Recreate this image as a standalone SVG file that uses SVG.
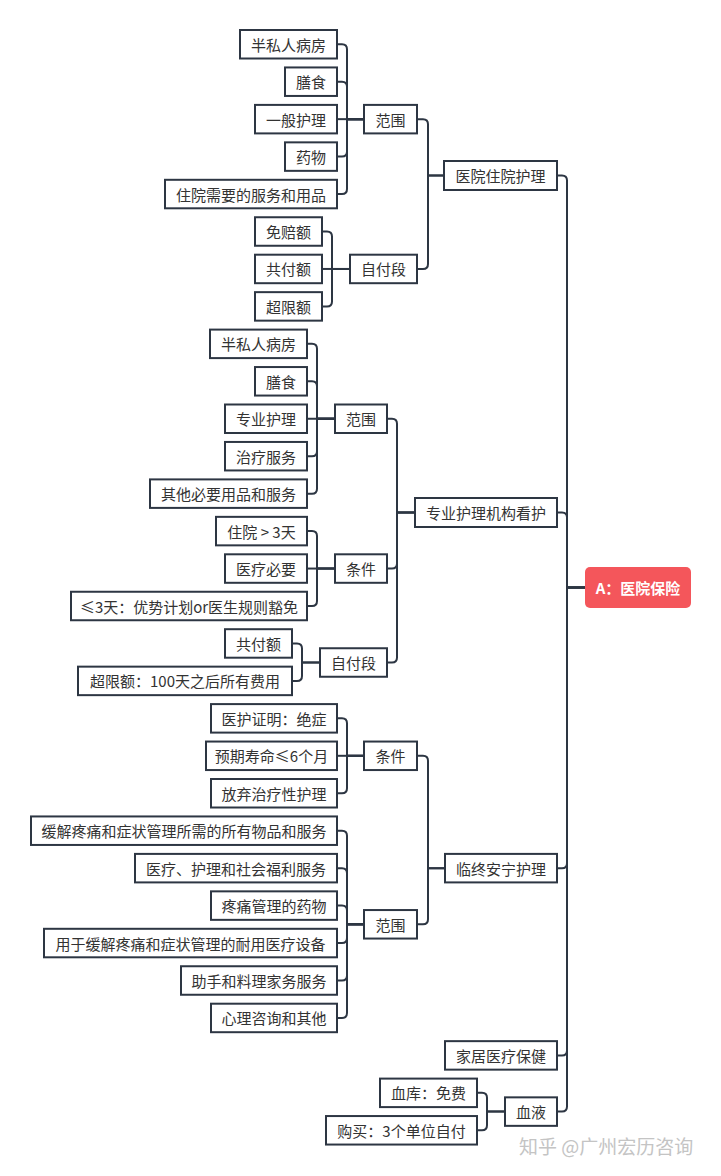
<svg xmlns="http://www.w3.org/2000/svg" width="721" height="1176" viewBox="0 0 721 1176">
<style>
.bg{fill:#ffffff}
.n rect{fill:#ffffff;stroke:#2d3643;stroke-width:2}
.n text{font-family:"Noto Sans CJK SC","Noto Sans",sans-serif;font-size:15px;fill:#333333;text-anchor:middle;dominant-baseline:central}
#root rect{fill:#F4565B;stroke:none}
#root text{fill:#ffffff;font-weight:bold}
#connectors path{fill:none;stroke:#2d3643;stroke-width:2}
.wm{font-family:"Noto Sans CJK SC",sans-serif;font-size:19px;fill:#c4c4c4;dominant-baseline:central}
</style>
<rect class="bg" x="0" y="0" width="721" height="1176"/>
<g id="connectors">
<!-- root -->
<path d="M585 587.5H567V180.5Q567 175.5 562 175.5H557"/>
<path d="M585 587.5H567V517.5Q567 512.5 562 512.5H557"/>
<path d="M585 587.5H567V863.15Q567 868.15 562 868.15H557"/>
<path d="M585 587.5H567V1050.4Q567 1055.4 562 1055.4H557"/>
<path d="M585 587.5H567V1106.6Q567 1111.6 562 1111.6H557"/>
<!-- 医院住院护理 -->
<path d="M444 175.5H428V124.15Q428 119.15 423 119.15H417"/>
<path d="M444 175.5H428V263.95Q428 268.95 423 268.95H417"/>
<!-- 范围1 -->
<path d="M364 119.15H347V49.25Q347 44.25 342 44.25H337"/>
<path d="M364 119.15H347V86.7Q347 81.7 342 81.7H337"/>
<path d="M364 119.15H337"/>
<path d="M364 119.15H347V151.6Q347 156.6 342 156.6H337"/>
<path d="M364 119.15H347V189.05Q347 194.05 342 194.05H337"/>
<!-- 自付段1 -->
<path d="M350 268.95H332V236.5Q332 231.5 327 231.5H322"/>
<path d="M350 268.95H322"/>
<path d="M350 268.95H332V301.4Q332 306.4 327 306.4H322"/>
<!-- 专业护理机构看护 -->
<path d="M415 512.5H397V423.75Q397 418.75 392 418.75H387"/>
<path d="M415 512.5H397V563.55Q397 568.55 392 568.55H387"/>
<path d="M415 512.5H397V657.5Q397 662.5 392 662.5H387"/>
<!-- 范围2 -->
<path d="M335 418.75H317V348.85Q317 343.85 312 343.85H307"/>
<path d="M335 418.75H317V386.3Q317 381.3 312 381.3H307"/>
<path d="M335 418.75H307"/>
<path d="M335 418.75H317V451.2Q317 456.2 312 456.2H307"/>
<path d="M335 418.75H317V488.65Q317 493.65 312 493.65H307"/>
<!-- 条件2 -->
<path d="M335 568.55H317V536.1Q317 531.1 312 531.1H307"/>
<path d="M335 568.55H307"/>
<path d="M335 568.55H317V601Q317 606 312 606H307"/>
<!-- 自付段2 -->
<path d="M320 662.5H302V648.45Q302 643.45 297 643.45H292"/>
<path d="M320 662.5H302V675.9Q302 680.9 297 680.9H292"/>
<!-- 临终安宁护理 -->
<path d="M445 868.15H428V760.8Q428 755.8 423 755.8H417"/>
<path d="M445 868.15H428V919.3Q428 924.3 423 924.3H417"/>
<!-- 条件3 -->
<path d="M364 755.8H347V723.35Q347 718.35 342 718.35H337"/>
<path d="M364 755.8H337"/>
<path d="M364 755.8H347V788.25Q347 793.25 342 793.25H337"/>
<!-- 范围3 -->
<path d="M364 924.3H347V835.7Q347 830.7 342 830.7H337"/>
<path d="M364 924.3H347V873.15Q347 868.15 342 868.15H337"/>
<path d="M364 924.3H347V910.6Q347 905.6 342 905.6H337"/>
<path d="M364 924.3H347V938.05Q347 943.05 342 943.05H337"/>
<path d="M364 924.3H347V975.5Q347 980.5 342 980.5H337"/>
<path d="M364 924.3H347V1012.95Q347 1017.95 342 1017.95H337"/>
<!-- 血液 -->
<path d="M505 1111.6H487V1097.85Q487 1092.85 482 1092.85H477"/>
<path d="M505 1111.6H487V1125.3Q487 1130.3 482 1130.3H477"/>
</g>

<g id="root" class="n"><rect x="585" y="567" width="106" height="41" rx="5"/><text x="638" y="587.5">A：医院保险</text></g>

<g id="n-zhuyuan" class="n"><rect x="444" y="161" width="113" height="29"/><text x="500.5" y="175.5">医院住院护理</text></g>
<g id="n-zhuanye" class="n"><rect x="415" y="498" width="142" height="29"/><text x="486" y="512.5">专业护理机构看护</text></g>
<g id="n-linzhong" class="n"><rect x="445" y="853.9" width="112" height="28.5"/><text x="501" y="868.15">临终安宁护理</text></g>
<g id="n-jiaju" class="n"><rect x="445" y="1041.15" width="112" height="28.5"/><text x="501" y="1055.4">家居医疗保健</text></g>
<g id="n-xueye" class="n"><rect x="505" y="1097.35" width="52" height="28.5"/><text x="531" y="1111.6">血液</text></g>

<g id="n-fanwei1" class="n"><rect x="364" y="104.9" width="53" height="28.5"/><text x="390.5" y="119.15">范围</text></g>
<g id="n-zifu1" class="n"><rect x="350" y="254.7" width="67" height="28.5"/><text x="383.5" y="268.95">自付段</text></g>
<g id="n-a0" class="n"><rect x="240" y="30" width="97" height="28.5"/><text x="288.5" y="44.25">半私人病房</text></g>
<g id="n-a1" class="n"><rect x="285" y="67.45" width="52" height="28.5"/><text x="311" y="81.7">膳食</text></g>
<g id="n-a2" class="n"><rect x="255" y="104.9" width="82" height="28.5"/><text x="296" y="119.15">一般护理</text></g>
<g id="n-a3" class="n"><rect x="285" y="142.35" width="52" height="28.5"/><text x="311" y="156.6">药物</text></g>
<g id="n-a4" class="n"><rect x="165" y="179.8" width="172" height="28.5"/><text x="251" y="194.05">住院需要的服务和用品</text></g>
<g id="n-a5" class="n"><rect x="255" y="217.25" width="67" height="28.5"/><text x="288.5" y="231.5">免赔额</text></g>
<g id="n-a6" class="n"><rect x="255" y="254.7" width="67" height="28.5"/><text x="288.5" y="268.95">共付额</text></g>
<g id="n-a7" class="n"><rect x="255" y="292.15" width="67" height="28.5"/><text x="288.5" y="306.4">超限额</text></g>

<g id="n-fanwei2" class="n"><rect x="335" y="404.5" width="52" height="28.5"/><text x="361" y="418.75">范围</text></g>
<g id="n-tiaojian2" class="n"><rect x="335" y="554.3" width="52" height="28.5"/><text x="361" y="568.55">条件</text></g>
<g id="n-zifu2" class="n"><rect x="320" y="648.25" width="67" height="28.5"/><text x="353.5" y="662.5">自付段</text></g>
<g id="n-b0" class="n"><rect x="210" y="329.6" width="97" height="28.5"/><text x="258.5" y="343.85">半私人病房</text></g>
<g id="n-b1" class="n"><rect x="255" y="367.05" width="52" height="28.5"/><text x="281" y="381.3">膳食</text></g>
<g id="n-b2" class="n"><rect x="225" y="404.5" width="82" height="28.5"/><text x="266" y="418.75">专业护理</text></g>
<g id="n-b3" class="n"><rect x="225" y="441.95" width="82" height="28.5"/><text x="266" y="456.2">治疗服务</text></g>
<g id="n-b4" class="n"><rect x="150" y="479.4" width="157" height="28.5"/><text x="228.5" y="493.65">其他必要用品和服务</text></g>
<g id="n-b5" class="n"><rect x="216" y="516.85" width="91" height="28.5"/><text x="261.5" y="531.1">住院 &gt; 3天</text></g>
<g id="n-b6" class="n"><rect x="225" y="554.3" width="82" height="28.5"/><text x="266" y="568.55">医疗必要</text></g>
<g id="n-b7" class="n"><rect x="71" y="591.75" width="236" height="28.5"/><text x="189" y="606">≤3天：优势计划or医生规则豁免</text></g>
<g id="n-b8" class="n"><rect x="225" y="629.2" width="67" height="28.5"/><text x="258.5" y="643.45">共付额</text></g>
<g id="n-b9" class="n"><rect x="78" y="666.65" width="214" height="28.5"/><text x="185" y="680.9">超限额：100天之后所有费用</text></g>

<g id="n-tiaojian3" class="n"><rect x="364" y="741.55" width="53" height="28.5"/><text x="390.5" y="755.8">条件</text></g>
<g id="n-fanwei3" class="n"><rect x="364" y="910.05" width="53" height="28.5"/><text x="390.5" y="924.3">范围</text></g>
<g id="n-c0" class="n"><rect x="211" y="704.1" width="126" height="28.5"/><text x="274" y="718.35">医护证明：绝症</text></g>
<g id="n-c1" class="n"><rect x="206" y="741.55" width="131" height="28.5"/><text x="271.5" y="755.8">预期寿命≤6个月</text></g>
<g id="n-c2" class="n"><rect x="211" y="779" width="126" height="28.5"/><text x="274" y="793.25">放弃治疗性护理</text></g>
<g id="n-c3" class="n"><rect x="31" y="816.45" width="306" height="28.5"/><text x="184" y="830.7">缓解疼痛和症状管理所需的所有物品和服务</text></g>
<g id="n-c4" class="n"><rect x="135" y="853.9" width="202" height="28.5"/><text x="236" y="868.15">医疗、护理和社会福利服务</text></g>
<g id="n-c5" class="n"><rect x="211" y="891.35" width="126" height="28.5"/><text x="274" y="905.6">疼痛管理的药物</text></g>
<g id="n-c6" class="n"><rect x="44" y="928.8" width="293" height="28.5"/><text x="190.5" y="943.05">用于缓解疼痛和症状管理的耐用医疗设备</text></g>
<g id="n-c7" class="n"><rect x="181" y="966.25" width="156" height="28.5"/><text x="259" y="980.5">助手和料理家务服务</text></g>
<g id="n-c8" class="n"><rect x="211" y="1003.7" width="126" height="28.5"/><text x="274" y="1017.95">心理咨询和其他</text></g>

<g id="n-d0" class="n"><rect x="380" y="1078.6" width="97" height="28.5"/><text x="428.5" y="1092.85">血库：免费</text></g>
<g id="n-d1" class="n"><rect x="326" y="1116.05" width="151" height="28.5"/><text x="401.5" y="1130.3">购买：3个单位自付</text></g>

<text class="wm" x="519" y="1145">知乎 @广州宏历咨询</text>
</svg>
